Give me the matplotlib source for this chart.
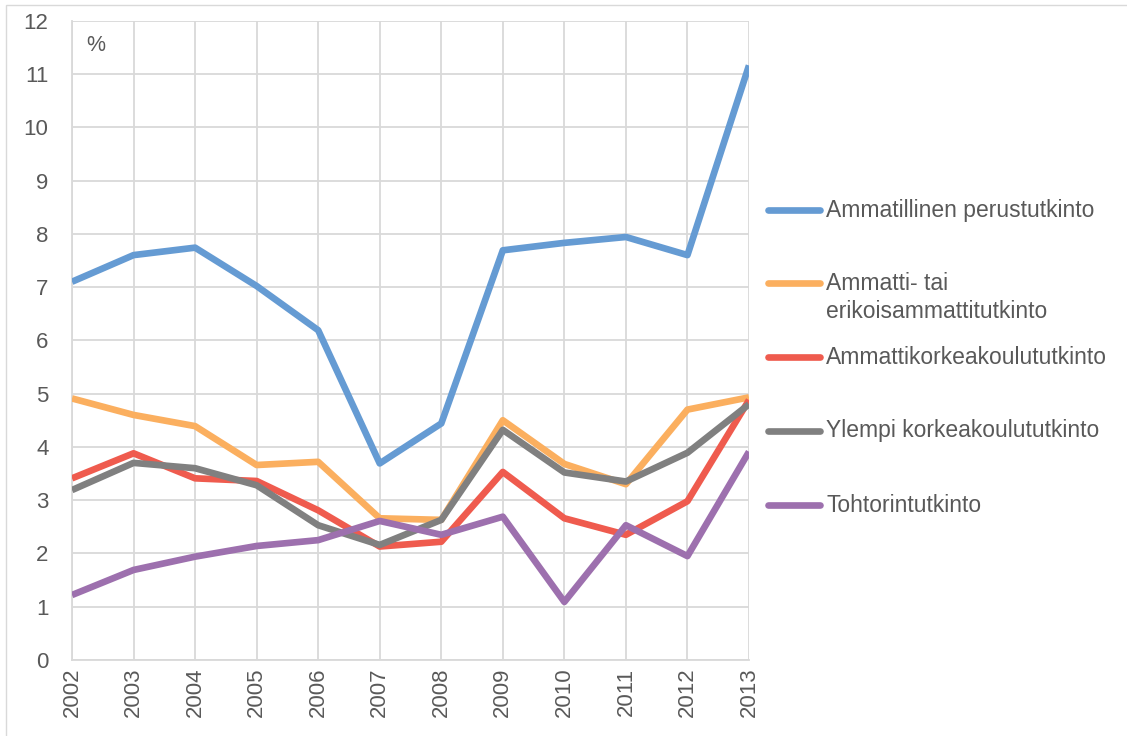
import numpy as np
import matplotlib
matplotlib.use("Agg")
import matplotlib.pyplot as plt
from matplotlib.lines import Line2D
from matplotlib.patches import Rectangle

# --------- Données ---------
years = [2002, 2003, 2004, 2005, 2006, 2007, 2008, 2009, 2010, 2011, 2012, 2013]

ammatillinen = [7.10, 7.60, 7.74, 7.02, 6.19, 3.69, 4.44, 7.69, 7.83, 7.94, 7.60, 11.16]
ammatti_tai = [4.91, 4.60, 4.39, 3.66, 3.72, 2.66, 2.63, 4.50, 3.68, 3.30, 4.70, 4.93]
amk = [3.41, 3.88, 3.41, 3.36, 2.81, 2.13, 2.22, 3.53, 2.66, 2.35, 2.98, 4.88]
ylempi = [3.19, 3.70, 3.60, 3.28, 2.53, 2.16, 2.63, 4.32, 3.52, 3.35, 3.89, 4.80]
tohtori = [1.22, 1.69, 1.94, 2.14, 2.25, 2.61, 2.35, 2.69, 1.09, 2.53, 1.95, 3.91]

labels = ["Ammatillinen perustutkinto",
          "Ammatti- tai\nerikoisammattitutkinto",
          "Ammattikorkeakoulututkinto",
          "Ylempi korkeakoulututkinto",
          "Tohtorintutkinto"]
colors = ["#659bd3", "#fbaf5f", "#ef5b4e", "#808080", "#9d70ae"]
series = [ammatillinen, ammatti_tai, amk, ylempi, tohtori]

# --------- Figure ---------
plt.rcParams['font.family'] = ['Liberation Sans', 'DejaVu Sans']
W, H = 1127, 736
fig = plt.figure(figsize=(W / 100, H / 100), dpi=100)

# cadre du graphique (coupé à droite et en bas)
fig.patches.append(Rectangle((6 / W, -0.1), 1.2, 1 - 5 / H + 0.1,
                             transform=fig.transFigure, fill=False,
                             edgecolor="#d9d9d9", linewidth=1))

ax = fig.add_axes([72 / W, 1 - 660 / H, (749 - 72) / W, (660 - 20.7) / H])

for vals, c in zip(series, colors):
    ax.plot(years, vals, color=c, linewidth=4.8, solid_joinstyle="round",
            solid_capstyle="butt", zorder=3)

ax.set_xlim(2002, 2013)
ax.set_ylim(0, 12)
ax.set_xticks(years)
ax.set_xticklabels([str(y) for y in years], rotation=90)
ax.set_yticks(range(0, 13))
ax.grid(True, color="#d9d9d9", linewidth=1.3)
ax.set_axisbelow(True)
for s in ["top", "right"]:
    ax.spines[s].set_visible(False)
for s in ["left", "bottom"]:
    ax.spines[s].set_color("#d9d9d9")
    ax.spines[s].set_linewidth(1.3)
ax.tick_params(length=0, labelsize=16, colors="#595959")
ax.tick_params(axis="x", pad=5.5)
ax.tick_params(axis="y", pad=17)

ax.text(0.021, 0.978, "%", transform=ax.transAxes, ha="left", va="top",
        fontsize=15.5, color="#595959")

# --------- Légende ---------
leg_y = [210, 283, 357, 431, 505]
for lab, c, yy in zip(labels, colors, leg_y):
    yf = 1 - yy / H
    fig.add_artist(Line2D([768 / W, 820 / W], [yf, yf], transform=fig.transFigure,
                          color=c, linewidth=4.8, solid_capstyle="round"))
    if "\n" in lab:
        fig.text(826 / W, yf + 11 / H, lab, ha="left", va="top",
                 fontsize=16.5, color="#595959", linespacing=1.3)
    else:
        fig.text(826 / W, yf, lab, ha="left", va="center",
                 fontsize=16.5, color="#595959")

fig.savefig("out.png", dpi=100)
